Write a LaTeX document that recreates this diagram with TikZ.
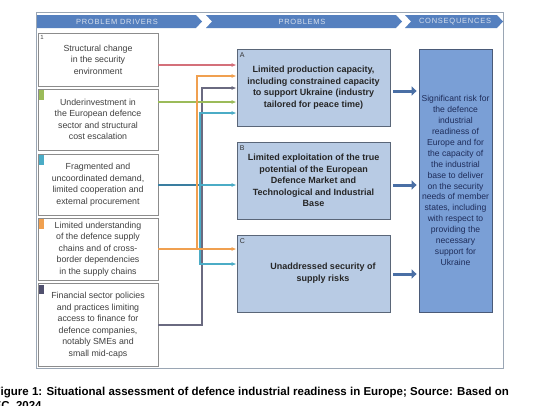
\documentclass[tikz,border=0pt]{standalone}
\usepackage{fontspec}
\setmainfont{Liberation Sans}
\usetikzlibrary{arrows.meta,calc}
\definecolor{chev}{HTML}{5580BF}
\definecolor{chevtext}{HTML}{D5DEEC}
\definecolor{framec}{HTML}{9AA6B4}
\definecolor{lborder}{HTML}{8C8C8C}
\definecolor{ltext}{HTML}{404040}
\definecolor{probfill}{HTML}{B8CBE4}
\definecolor{probborder}{HTML}{5A6678}
\definecolor{consfill}{HTML}{7A9FD6}
\definecolor{consborder}{HTML}{4A5A78}
\definecolor{constext}{HTML}{1F2D5A}
\definecolor{cpink}{HTML}{D4707A}
\definecolor{corange}{HTML}{F0A050}
\definecolor{cgray}{HTML}{6A6A80}
\definecolor{cgreen}{HTML}{9BBB59}
\definecolor{cteal}{HTML}{4BACC6}
\definecolor{cdteal}{HTML}{3A7EA0}
\definecolor{cpurple}{HTML}{50506E}
\definecolor{bigarrow}{HTML}{4A6FA5}
\begin{document}
\begin{tikzpicture}[x=1pt,y=-1pt,
  leftbox/.style={draw=lborder, fill=white, line width=0.7pt, inner sep=0pt, align=center,
    minimum width=120pt, font=\fontsize{8.8}{11.5}\selectfont, text=ltext},
  probbox/.style={draw=probborder, fill=probfill, line width=0.8pt, inner sep=0pt, align=center,
    minimum width=153pt, minimum height=77pt, font=\bfseries\fontsize{9}{11.5}\selectfont, text=black!85},
  consbox/.style={draw=consborder, fill=consfill, line width=0.8pt, inner sep=0pt, align=center,
    minimum width=73pt, minimum height=263pt, font=\fontsize{8.6}{10.9}\selectfont, text=constext},
  tag/.style={inner sep=0pt, minimum width=5pt, minimum height=10pt},
  letterlab/.style={inner sep=0pt, anchor=north west, font=\fontsize{7}{8}\selectfont, text=black!80},
  headtext/.style={inner sep=0pt, font=\fontsize{7.5}{8}\selectfont\addfontfeature{LetterSpace=10}, text=chevtext},
  conn/.style={line width=1.3pt, -{Latex[length=5pt,width=4pt]}},
  plainconn/.style={line width=1.3pt},
  bigarr/.style={line width=3pt, draw=bigarrow, -{Triangle[length=5pt,width=9pt]}, shorten <=3pt, shorten >=2pt}
]
\clip (0,0) rectangle (537,405);
\fill[white] (0,0) rectangle (537,405);
% outer frame
\draw[framec, line width=0.7pt] (36,12.5) rectangle (503,368);
% header chevrons
\fill[chev] (37,15) -- (196,15) -- (202,21.5) -- (196,28) -- (37,28) -- cycle;
\fill[chev] (206,15) -- (396,15) -- (402,21.5) -- (396,28) -- (206,28) -- (212,21.5) -- cycle;
\fill[chev] (405,15) -- (497,15) -- (503,21.5) -- (497,28) -- (405,28) -- (411,21.5) -- cycle;
\node[headtext] (h1) at (117,21.5) {PROBLEM DRIVERS};
\node[headtext] (h2) at (302,21.5) {PROBLEMS};
\node[headtext] (h3) at (455,21.5) {CONSEQUENCES};

% left boxes (problem drivers)
\node[leftbox, minimum height=53pt] (d1) at (98,59.5) {Structural change\\in the security\\environment};
\node[leftbox, minimum height=61pt] (d2) at (98,119.5) {Underinvestment in\\the European defence\\sector and structural\\cost escalation};
\node[leftbox, minimum height=61pt] (d3) at (98,184.5) {Fragmented and\\uncoordinated demand,\\limited cooperation and\\external procurement};
\node[leftbox, minimum height=62pt] (d4) at (98,249) {Limited understanding\\of the defence supply\\chains and of cross-\\border dependencies\\in the supply chains};
\node[leftbox, minimum height=83pt] (d5) at (98,325) {Financial sector policies\\and practices limiting\\access to finance for\\defence companies,\\notably SMEs and\\small mid-caps};
% tags
\node[inner sep=0pt, anchor=north west, font=\fontsize{6}{7}\selectfont, text=ltext] (t1) at ($(d1.north west)+(2.5,3)$) {1};
\node[tag, fill=cgreen, anchor=north west] (t2) at ($(d2.north west)+(1.5,1)$) {};
\node[tag, fill=cteal, anchor=north west] (t3) at ($(d3.north west)+(1.5,1)$) {};
\node[tag, fill=corange, anchor=north west] (t4) at ($(d4.north west)+(1.5,1)$) {};
\node[tag, fill=cpurple, anchor=north west, minimum height=9pt] (t5) at ($(d5.north west)+(1.5,1.5)$) {};

% problem boxes
\node[probbox] (pA) at (313.5,87.5) {Limited production capacity,\\including constrained capacity\\to support Ukraine (industry\\tailored for peace time)};
\node[probbox] (pB) at (313.5,180.5) {Limited exploitation of the true\\potential of the European\\Defence Market and\\Technological and Industrial\\Base};
\node[probbox] (pC) at (313.5,273.5) {};
\node[probbox, draw=none, fill=none] (pCt) at (323,273) {Unaddressed security of\\supply risks};
\node[letterlab] (lA) at ($(pA.north west)+(3,4)$) {A};
\node[letterlab] (lB) at ($(pB.north west)+(3,4)$) {B};
\node[letterlab] (lC) at ($(pC.north west)+(3,4)$) {C};

% consequence box
\node[consbox] (pR) at (455.5,180.5) {Significant risk for\\the defence\\industrial\\readiness of\\Europe and for\\the capacity of\\the industrial\\base to deliver\\on the security\\needs of member\\states, including\\with respect to\\providing the\\necessary\\support for\\Ukraine};

% junction coordinates
\coordinate (jO) at (197,249);
\coordinate (jT) at (200,185);
\coordinate (jG) at (202,325);
\coordinate (yPink) at (0,65);
\coordinate (yOrA) at (0,76);
\coordinate (yGrA) at (0,88);
\coordinate (yGreen) at (0,102);
\coordinate (yTeA) at (0,113);
\coordinate (yTeC) at (0,264);

% connectors
\draw[conn, cgray] (d5.east |- jG) -- (jG) |- (pA.west |- yGrA);
\draw[conn, cpink] (d1.east |- yPink) -- (pA.west |- yPink);
\draw[conn, cgreen] (d2.east |- yGreen) -- (pA.west |- yGreen);
\draw[plainconn, cdteal, line width=2.2pt] (d3.east |- jT) -- (jT);
\draw[conn, cteal] (jT) -- (pB.west |- jT);
\draw[conn, cteal] (jT) |- (pA.west |- yTeA);
\draw[conn, cteal] (jT) |- (pC.west |- yTeC);
\draw[conn, corange] (d4.east |- jO) -- (pC.west |- jO);
\draw[conn, corange] (jO) |- (pA.west |- yOrA);

% big arrows
\draw[bigarr] (pA.east |- 0,91) -- (pR.west |- 0,91);
\draw[bigarr] (pB.east |- 0,185) -- (pR.west |- 0,185);
\draw[bigarr] (pC.east |- 0,274) -- (pR.west |- 0,274);

% caption
\node[inner sep=0pt, anchor=base west, font=\bfseries\fontsize{11.5}{13}\selectfont] (cap1) at (-6.5,395) {Figure 1: Situational assessment of defence industrial readiness in Europe; Source: Based on};
\node[inner sep=0pt, anchor=base west, font=\bfseries\fontsize{11.5}{13}\selectfont] (cap2) at (-6.5,409) {EC, 2024};
\end{tikzpicture}
\end{document}
